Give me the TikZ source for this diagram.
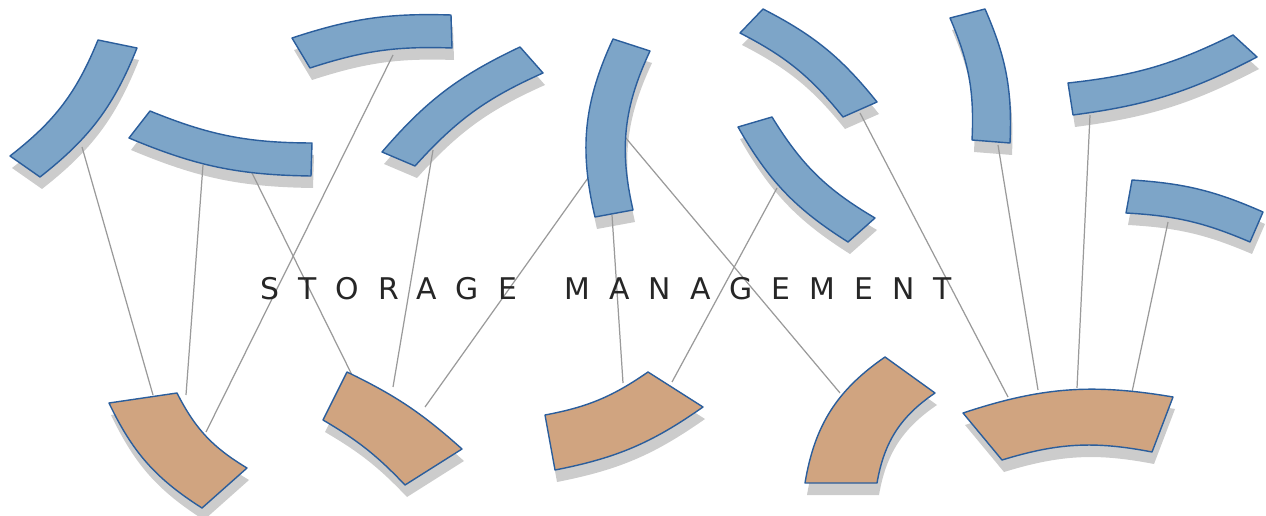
\documentclass[tikz,border=0pt]{standalone}
\usepackage{fontspec}
\usetikzlibrary{positioning}
\newfontfamily\titlefont[LetterSpace=64]{DejaVu Sans}
\definecolor{diskblue}{HTML}{7DA5C8}
\definecolor{disktan}{HTML}{D0A480}
\definecolor{rimblue}{HTML}{2B5E9C}
\definecolor{wiregray}{HTML}{9A9A9A}
\pgfdeclarelayer{shade}
\pgfdeclarelayer{wires}
\pgfsetlayers{shade,wires,main}

% ring segment: style, 4 corners, bend of the two curved sides
\newcommand{\segment}[6]{%
  \begin{pgfonlayer}{shade}
    \fill[dropgray, shift={(2,12)}] #2 to[bend left=#6] #3 -- #4 to[bend right=#6] #5 -- cycle;
  \end{pgfonlayer}
  \draw[#1] #2 to[bend left=#6] #3 -- #4 to[bend right=#6] #5 -- cycle;}

\begin{document}
\begin{tikzpicture}[x=0.02cm, y=-0.02cm,
upper/.style={draw=rimblue, fill=diskblue, line width=0.8pt, line join=round},
lower/.style={draw=rimblue, fill=disktan, line width=0.8pt, line join=round},
dropgray/.style={fill=gray!40},
link/.style={draw=wiregray, line width=0.7pt},
title/.style={font=\titlefont\fontsize{17}{20}\selectfont, text=black!85}
]
\useasboundingbox (0,0) rectangle (1266,516);

% top segments
\segment{upper}{(137,48)}{(40,177)}{(10,156)}{(98,40)}{15}
\segment{upper}{(311,176)}{(129,138)}{(150,111)}{(312,143)}{11}
\segment{upper}{(292,38)}{(451,15)}{(452,48)}{(310,68)}{10}
\segment{upper}{(382,152)}{(520,47)}{(543,73)}{(415,166)}{12}
\segment{upper}{(595,217)}{(613,39)}{(650,51)}{(633,210)}{19}
\segment{upper}{(763,9)}{(877,102)}{(843,117)}{(740,33)}{12}
\segment{upper}{(848,242)}{(738,127)}{(772,117)}{(875,218)}{14}
\segment{upper}{(985,9)}{(1010,143)}{(972,140)}{(950,18)}{13}
\segment{upper}{(1257,57)}{(1073,115)}{(1068,83)}{(1233,35)}{10}
\segment{upper}{(1132,180)}{(1263,212)}{(1250,242)}{(1126,213)}{10}

% bottom segments
\segment{lower}{(202,508)}{(109,403)}{(177,393)}{(247,468)}{16}
\segment{lower}{(347,372)}{(462,449)}{(405,485)}{(323,420)}{8}
\segment{lower}{(703,407)}{(555,470)}{(545,415)}{(648,372)}{12}
\segment{lower}{(805,483)}{(885,357)}{(935,393)}{(877,483)}{23}
\segment{lower}{(963,413)}{(1173,397)}{(1152,452)}{(1002,460)}{14}

\node[title] (caption) at (606,289) {STORAGE\hspace{10.5pt} MANAGEMENT};

\coordinate (b1) at (82,147);
\coordinate (b2a) at (203,165);
\coordinate (b2b) at (252,173);
\coordinate (b3) at (393,55);
\coordinate (b4) at (433,150);
\coordinate (b5a) at (588,178);
\coordinate (b5b) at (612,215);
\coordinate (b5c) at (625,137);
\coordinate (b6) at (860,113);
\coordinate (b7) at (777,188);
\coordinate (b8) at (998,145);
\coordinate (b9) at (1090,115);
\coordinate (b10) at (1168,222);
\coordinate (t1a) at (153,395);
\coordinate (t1b) at (186,395);
\coordinate (t1c) at (206,432);
\coordinate (t2a) at (352,375);
\coordinate (t2b) at (393,387);
\coordinate (t2c) at (425,407);
\coordinate (t3a) at (623,383);
\coordinate (t3b) at (672,382);
\coordinate (t4) at (840,393);
\coordinate (t5a) at (1008,397);
\coordinate (t5b) at (1038,390);
\coordinate (t5c) at (1077,388);
\coordinate (t5d) at (1132,392);

\begin{pgfonlayer}{wires}
\draw[link] (b1) -- (t1a);
\draw[link] (b2a) -- (t1b);
\draw[link] (b2b) -- (t2a);
\draw[link] (b3) -- (t1c);
\draw[link] (b4) -- (t2b);
\draw[link] (b5a) -- (t2c);
\draw[link] (b5b) -- (t3a);
\draw[link] (b5c) -- (t4);
\draw[link] (b7) -- (t3b);
\draw[link] (b6) -- (t5a);
\draw[link] (b8) -- (t5b);
\draw[link] (b9) -- (t5c);
\draw[link] (b10) -- (t5d);
\end{pgfonlayer}
\end{tikzpicture}
\end{document}
